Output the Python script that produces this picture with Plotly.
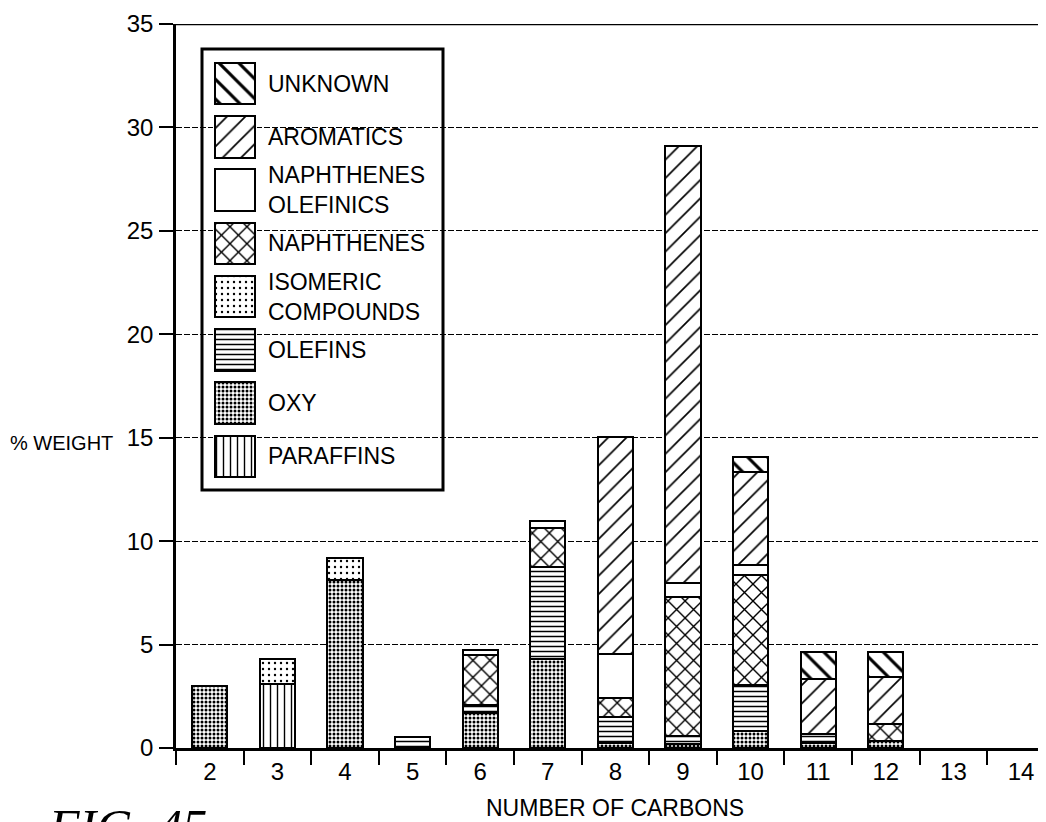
import plotly.graph_objects as go

# ---------------- data ----------------
carbons = [2, 3, 4, 5, 6, 7, 8, 9, 10, 11, 12, 13, 14]
paraffins = [0, 3.1, 0, 0, 0, 0, 0, 0, 0, 0, 0, 0, 0]
oxy = [3.0, 0, 8.1, 0, 1.7, 4.3, 0.25, 0.2, 0.8, 0.25, 0.35, 0, 0]
olefins = [0, 0, 0, 0.55, 0.4, 4.45, 1.25, 0.4, 2.25, 0.45, 0, 0, 0]
isomeric = [0, 1.2, 1.1, 0, 0, 0, 0, 0, 0, 0, 0, 0, 0]
naphthenes = [0, 0, 0, 0, 2.4, 1.9, 0.9, 6.7, 5.3, 0, 0.8, 0, 0]
naph_olefinics = [0, 0, 0, 0, 0.25, 0.3, 2.15, 0.7, 0.5, 0, 0, 0, 0]
aromatics = [0, 0, 0, 0, 0, 0, 10.5, 21.1, 4.5, 2.65, 2.3, 0, 0]
unknown = [0, 0, 0, 0, 0, 0, 0, 0, 0.7, 1.3, 1.2, 0, 0]

series_names = ["PARAFFINS", "OXY", "OLEFINS", "ISOMERIC<br>COMPOUNDS", "NAPHTHENES",
                "NAPHTHENES<br>OLEFINICS", "AROMATICS", "UNKNOWN"]
series_values = [paraffins, oxy, olefins, isomeric, naphthenes, naph_olefinics, aromatics, unknown]
y_ticks = [0, 5, 10, 15, 20, 25, 30, 35]

# ---------------- styles ----------------
patterns = [
    dict(shape="|", size=7, solidity=0.2),
    dict(shape=".", size=4, solidity=0.45),
    dict(shape="-", size=5, solidity=0.3),
    dict(shape=".", size=6, solidity=0.12),
    dict(shape="x", size=12, solidity=0.22),
    dict(shape="", size=8, solidity=0.2),
    dict(shape="/", size=13, solidity=0.13),
    dict(shape="\\", size=14, solidity=0.22),
]

FONT = "Liberation Sans, Arial, Helvetica, sans-serif"

# page geometry (pixels); the page body adds an 8px offset around the figure
OFF = 8
PAGE_W, PAGE_H = 1046, 822
W, H = PAGE_W - OFF, PAGE_H - OFF
PLOT_L, PLOT_T, PLOT_B, PLOT_R = 176, 24, 748, 1046  # plot area in page pixels
L, T, R = PLOT_L - OFF, PLOT_T - OFF, 0
B = H - (PLOT_B - OFF)
PW, PH = PLOT_R - PLOT_L, PLOT_B - PLOT_T


def px_x(p):
    return (p - PLOT_L) / PW


def px_y(p):
    return (PLOT_B - p) / PH


fig = go.Figure()
cat_labels = [str(c) for c in carbons]

for name, vals, pat in zip(series_names, series_values, patterns):
    p = dict(pat)
    p.update(fgcolor="black", bgcolor="white", fillmode="replace")
    fig.add_trace(go.Bar(
        x=cat_labels, y=[v if v else None for v in vals], name=name.replace("<br>", " "),
        width=0.52,
        marker=dict(color="white", line=dict(color="black", width=2.2), pattern=p),
        showlegend=False, xaxis="x", yaxis="y",
    ))

# ---------------- custom legend (inset axis with swatches) ----------------
n = len(series_names)
slot_top, slot_bot = 57, 483
for k, (name, pat) in enumerate(zip(series_names[::-1], patterns[::-1])):
    p = dict(pat)
    p.update(fgcolor="black", bgcolor="white", fillmode="replace")
    fig.add_trace(go.Bar(
        x=[0], y=[0.78], base=[k + 0.11], width=1,
        marker=dict(color="white", line=dict(color="black", width=2.5), pattern=p),
        showlegend=False, xaxis="x2", yaxis="y2", hoverinfo="skip",
    ))

slot_h = (slot_bot - slot_top) / n
annotations = []
for k, name in enumerate(series_names[::-1]):
    cy = slot_top + slot_h * (k + 0.5)
    annotations.append(dict(
        x=px_x(266), y=px_y(cy), xref="paper", yref="paper",
        text=name, showarrow=False, xanchor="left", yanchor="middle", align="left",
        font=dict(family=FONT, size=23, color="black"),
    ))

annotations += [
    dict(x=px_x(8), y=px_y(443), xref="paper", yref="paper", text="% WEIGHT",
         showarrow=False, xanchor="left", yanchor="middle",
         font=dict(family=FONT, size=20, color="black")),
    dict(x=px_x(615), y=px_y(808), xref="paper", yref="paper", text="NUMBER OF CARBONS",
         showarrow=False, xanchor="center", yanchor="middle",
         font=dict(family=FONT, size=23, color="black")),
    dict(x=px_x(46), y=px_y(797), xref="paper", yref="paper", text="<i>FIG. 45</i>",
         showarrow=False, xanchor="left", yanchor="top",
         font=dict(family="Liberation Serif, Times New Roman, serif", size=50, color="black")),
]

shapes = [
    dict(type="rect", xref="paper", yref="paper",
         x0=px_x(202), x1=px_x(443), y0=px_y(490), y1=px_y(49),
         line=dict(color="black", width=3), fillcolor="white", layer="between"),
    dict(type="line", xref="paper", yref="y", x0=0, x1=1, y0=35, y1=35,
         line=dict(color="black", width=2.5)),
]

fig.update_layout(
    width=W, height=H,
    margin=dict(l=L, r=R, t=T, b=B, pad=0),
    paper_bgcolor="white", plot_bgcolor="white",
    barmode="stack",
    showlegend=False,
    font=dict(family=FONT, color="black"),
    xaxis=dict(
        type="category", range=[-0.5, 12.37], tickson="boundaries",
        ticks="outside", ticklen=14, tickwidth=2, tickcolor="black",
        showline=True, linecolor="black", linewidth=2.5, showgrid=False,
        tickfont=dict(family=FONT, size=24, color="black"),
        domain=[0, 1], zeroline=False,
    ),
    yaxis=dict(
        range=[0, 35], tickvals=y_ticks, ticktext=[str(v) for v in y_ticks],
        ticks="outside", ticklen=14, tickwidth=2, tickcolor="black",
        showline=True, linecolor="black", linewidth=2.5,
        showgrid=True, gridcolor="black", gridwidth=1, griddash="6px,2px",
        zeroline=False, ticklabelstandoff=1,
        tickfont=dict(family=FONT, size=24, color="black"),
        domain=[0, 1],
    ),
    xaxis2=dict(domain=[px_x(213), px_x(257)], range=[-0.55, 0.55], visible=False,
                anchor="y2", fixedrange=True),
    yaxis2=dict(domain=[px_y(slot_bot), px_y(slot_top)], range=[n, 0], visible=False,
                anchor="x2", fixedrange=True),
    annotations=annotations,
    shapes=shapes,
    bargap=0,
)

fig.write_html("out.html")
